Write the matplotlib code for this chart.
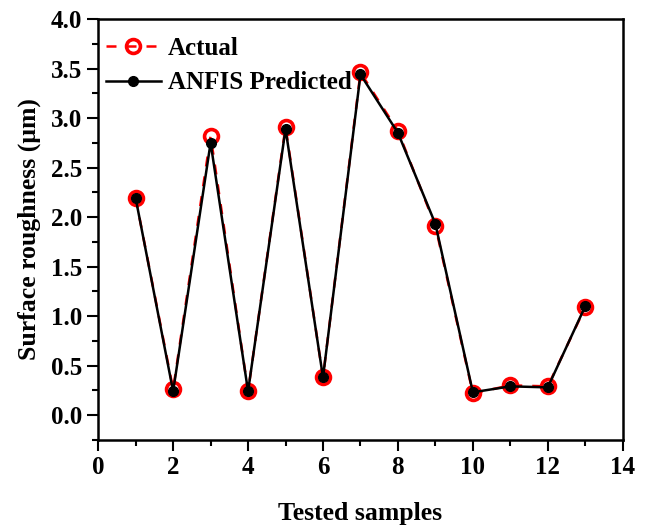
import matplotlib
matplotlib.use("Agg")
import matplotlib.pyplot as plt
from matplotlib.ticker import MultipleLocator

samples = [1, 2, 3, 4, 5, 6, 7, 8, 9, 10, 11, 12, 13]
actual = [2.19, 0.26, 2.82, 0.24, 2.91, 0.38, 3.46, 2.87, 1.91, 0.22, 0.30, 0.29, 1.09]
predicted = [2.19, 0.24, 2.75, 0.24, 2.89, 0.38, 3.44, 2.85, 1.93, 0.23, 0.29, 0.28, 1.10]

plt.rcParams['font.family'] = 'Liberation Serif'
plt.rcParams['font.weight'] = 'bold'

fig = plt.figure(figsize=(6.46, 5.28), dpi=100)
ax = fig.add_axes([0.152, 0.167, 0.812, 0.797])

ax.plot(samples, actual, '--', color='red', lw=1.8, dashes=(4, 4),
        marker='o', ms=10, mfc='none', mec='red', mew=2.6, label='Actual')
ax.plot(samples, predicted, '-', color='black', lw=1.8,
        marker='o', ms=7, mfc='black', mec='black', label='ANFIS Predicted')

ax.set_xlim(0, 14)
ax.set_ylim(-0.25, 4.0)
ax.xaxis.set_major_locator(MultipleLocator(2))
ax.xaxis.set_minor_locator(MultipleLocator(1))
ax.yaxis.set_major_locator(MultipleLocator(0.5))
ax.yaxis.set_minor_locator(MultipleLocator(0.25))
ax.yaxis.set_major_formatter(plt.FormatStrFormatter('%.1f'))
ax.tick_params(which='major', direction='out', length=8, width=1.5, labelsize=18)
ax.tick_params(which='minor', direction='out', length=4, width=1.5)
for s in ax.spines.values():
    s.set_linewidth(1.8)

ax.set_xlabel('Tested samples', fontsize=18.5, fontweight='bold', labelpad=17)
ax.set_ylabel('Surface roughness (μm)', fontsize=18.5, fontweight='bold', labelpad=7)

ax.legend(loc='upper left', bbox_to_anchor=(0, 0.975), frameon=False, fontsize=18,
          handlelength=2.2, borderpad=0.2, borderaxespad=0.1, handletextpad=0.3,
          labelspacing=0.45)

fig.savefig('out.png', dpi=100)
